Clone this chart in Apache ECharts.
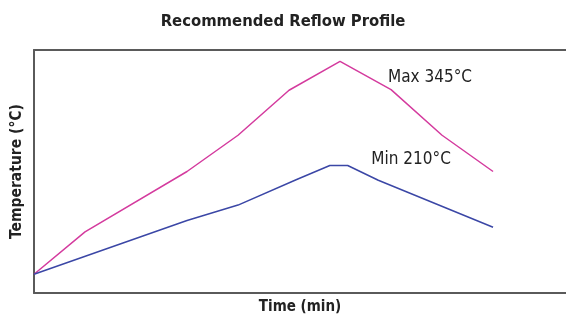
<!DOCTYPE html>
<html>
<head>
<meta charset="utf-8">
<script src="https://cdn.jsdelivr.net/npm/echarts@6/dist/echarts.min.js"></script>
<style>
  html, body { margin: 0; padding: 0; background: #fff; }
  #chart { width: 566px; height: 317px; }
</style>
</head>
<body>
<div id="chart"></div>
<script>
// 曲线数据（时间单位为刻度步长，温度按图估读）
const maxTime = [0, 1, 3, 4, 5, 6, 7, 8, 9];
const maxTemp = [28, 91, 181, 235, 302, 345, 303, 235, 181];
const minTime = [0, 3, 4, 5.15, 5.8, 6.15, 6.75, 9];
const minTemp = [28, 108, 131, 169, 190, 190, 168, 98];
const maxLabel = 'Max 345°C';
const minLabel = 'Min 210°C';

const FONT = "'Liberation Sans Narrow', 'DejaVu Sans Condensed', sans-serif";
const AXIS = { lineStyle: { color: '#5a5a5a', width: 2 } };

const chart = echarts.init(document.getElementById('chart'));
chart.setOption({
  animation: false,
  title: {
    text: 'Recommended Reflow Profile',
    left: 'center', top: 8,
    textStyle: { fontFamily: FONT, fontSize: 16.5, fontWeight: 'bold', color: '#222' }
  },
  grid: { left: 34, right: 0, top: 50, bottom: 24, outerBoundsMode: 'none' },
  xAxis: [{
    type: 'value', min: 0, max: 10.43,
    name: 'Time (min)', nameLocation: 'middle', nameGap: 7,
    nameTextStyle: { fontFamily: FONT, fontSize: 15, fontWeight: 'bold', color: '#222' },
    axisLine: AXIS, axisTick: { show: false }, axisLabel: { show: false }, splitLine: { show: false }
  }, {
    type: 'value', position: 'top', min: 0, max: 10.43,
    axisLine: AXIS, axisTick: { show: false }, axisLabel: { show: false }, splitLine: { show: false }
  }],
  yAxis: {
    type: 'value', min: 0, max: 362,
    name: 'Temperature (°C)', nameLocation: 'middle', nameGap: 9,
    nameTextStyle: { fontFamily: FONT, fontSize: 15.5, fontWeight: 'bold', color: '#222' },
    axisLine: AXIS, axisTick: { show: false }, axisLabel: { show: false }, splitLine: { show: false }
  },
  series: [{
    type: 'line', showSymbol: false,
    data: maxTime.map((t, i) => [t, maxTemp[i]]),
    lineStyle: { color: '#d43b9e', width: 1.5 },
    markPoint: {
      symbolSize: 0, silent: true,
      data: [{ coord: [maxTime[6], maxTemp[6]], value: maxLabel }],
      label: {
        show: true, position: 'right', offset: [-8, -12], formatter: maxLabel,
        fontFamily: FONT, fontSize: 17, color: '#222'
      }
    }
  }, {
    type: 'line', showSymbol: false,
    data: minTime.map((t, i) => [t, minTemp[i]]),
    lineStyle: { color: '#3b47a6', width: 1.5 },
    markPoint: {
      symbolSize: 0, silent: true,
      data: [{ coord: [minTime[6], minTemp[6]], value: minLabel }],
      label: {
        show: true, position: 'right', offset: [-12, -21], formatter: minLabel,
        fontFamily: FONT, fontSize: 17, color: '#222'
      }
    }
  }]
});
</script>
</body>
</html>
